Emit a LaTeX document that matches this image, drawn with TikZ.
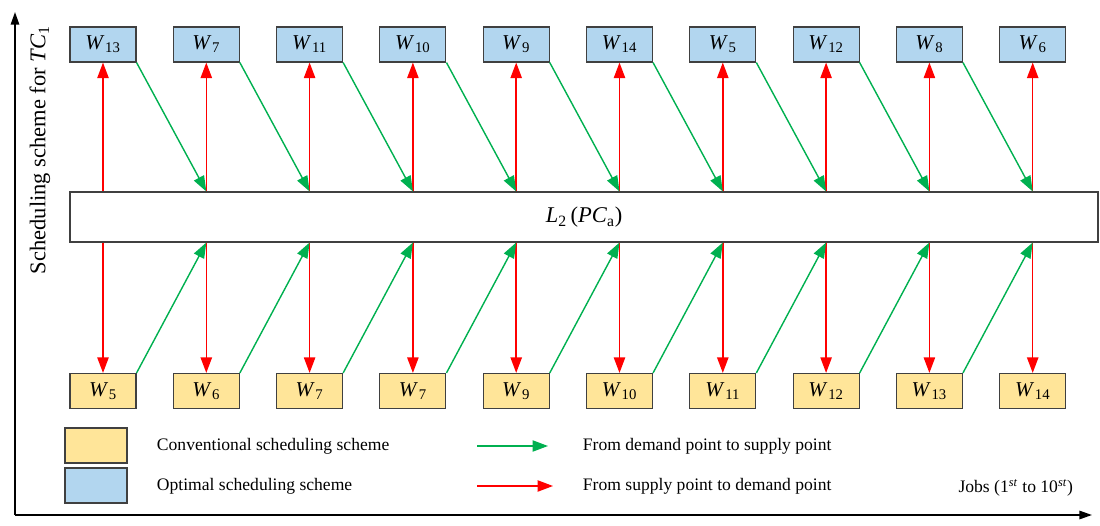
\documentclass[tikz,border=0pt]{standalone}
\usepackage{fontspec}
\setmainfont{Liberation Serif}
\usetikzlibrary{arrows.meta}
\definecolor{bl}{RGB}{178,214,239}
\definecolor{yl}{RGB}{255,229,153}
\definecolor{gr}{RGB}{0,176,80}
\definecolor{rd}{RGB}{255,0,0}
\newcommand{\Wsub}[1]{\textit{W}\textsubscript{\kern0.5pt#1}}
\begin{document}
\begin{tikzpicture}[x=0.025cm,y=-0.025cm,
 box/.style={draw=black!75,line width=0.8pt,minimum width=66*0.025cm,minimum height=35*0.025cm,inner sep=0pt,font=\fontsize{15}{17}\selectfont},
 top/.style={box,fill=bl}, bot/.style={box,fill=yl},
 ra/.style={draw=rd,line width=1.1pt,-{Triangle[length=11pt,width=8pt]}},
 ga/.style={draw=gr,line width=1pt,-{Triangle[length=11pt,width=8pt]}},
 lt/.style={font=\fontsize{12.5}{14}\selectfont,anchor=west}]
\useasboundingbox (0,0) rectangle (1100,526);
\draw[line width=1.2pt,-{Triangle[length=9pt,width=6pt]}] (15,515) -- (15,12);
\draw[line width=1.2pt,-{Triangle[length=9pt,width=6pt]}] (15,515) -- (1092,515);
\node[rotate=90,font=\fontsize{16}{18}\selectfont] (yl) at (40,150) {Scheduling scheme for \textit{TC}\textsubscript{1}};
\node[draw=black!75,line width=0.8pt,fill=white,minimum width=1028*0.025cm,minimum height=50*0.025cm,inner sep=0pt,font=\fontsize{16}{18}\selectfont] (mid) at (584,217) {\textit{L}\textsubscript{2}\,(\textit{PC}\textsubscript{a})};
\foreach \i/\t/\b [count=\k] in {13/5,7/6,11/7,10/7,9/9,14/10,5/11,12/12,8/13,6/14}{
  \pgfmathsetmacro{\xx}{103+(\k-1)*103.3}
  \node[top] (t\k) at (\xx,44.5) {\Wsub{\i}};
  \node[bot] (b\k) at (\xx,391) {\Wsub{\b}};
  \draw[ra] (mid.north -| t\k) -- (t\k.south);
  \draw[ra] (mid.south -| b\k) -- (b\k.north);
}
\foreach \k [evaluate=\k as \n using int(\k+1)] in {1,...,9}{
  \draw[ga] (t\k.south east) -- (mid.north -| t\n);
  \draw[ga] (b\k.north east) -- (mid.south -| b\n);
}
\node[bot,minimum width=62*0.025cm] (ly) at (96,445.5) {};
\node[top,minimum width=62*0.025cm] (lb) at (96,485.5) {};
\node[lt] (l1) at (152,446) {Conventional scheduling scheme};
\node[lt] (l2) at (152,486) {Optimal scheduling scheme};
\coordinate (g1) at (477,446); \coordinate (g2) at (548,446);
\coordinate (r1) at (477,486); \coordinate (r2) at (553,486);
\draw[ga] (g1) -- (g2);
\draw[ra] (r1) -- (r2);
\node[lt] (l3) at (578,446) {From demand point to supply point};
\node[lt] (l4) at (578,486) {From supply point to demand point};
\node[font=\fontsize{12.5}{14}\selectfont,anchor=east] (jobs) at (1078,488) {Jobs (1\textsuperscript{\textit{st}} to 10\textsuperscript{\textit{st}})};
\end{tikzpicture}
\end{document}
